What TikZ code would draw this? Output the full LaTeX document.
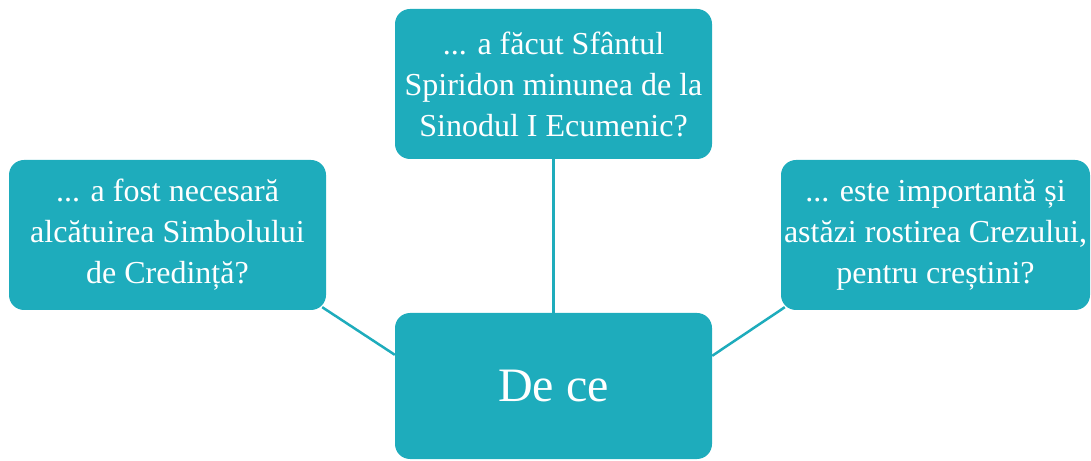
\documentclass[tikz,border=0pt]{standalone}
\usepackage{fontspec}
\setmainfont{Liberation Serif}
\usetikzlibrary{calc,backgrounds}
\definecolor{teal1}{RGB}{30,172,188}
\tikzset{
  qbox/.style={fill=teal1, rounded corners=15pt, inner sep=0pt, text=white,
    align=center, font=\fontsize{32}{41}\selectfont},
  conn/.style={draw=teal1, line width=2.5pt}
}
\begin{document}
\begin{tikzpicture}[x=1pt,y=1pt]
\useasboundingbox (0,0) rectangle (1091,460);
\node[qbox, minimum width=317pt, minimum height=150pt] (top) at (553.5,376) {... a făcut Sfântul\\Spiridon minunea de la\\Sinodul I Ecumenic?};
\node[qbox, minimum width=317pt, minimum height=150pt] (left) at (167.5,225) {... a fost necesară\\alcătuirea Simbolului\\de Credință?};
\node[qbox, minimum width=309pt, minimum height=150pt] (right) at (935.5,225) {... este importantă și\\astăzi rostirea Crezului,\\pentru creștini?};
\node[qbox, minimum width=317pt, minimum height=146pt, font=\fontsize{48}{58}\selectfont] (center) at (553.5,74) {De ce};
\begin{scope}[on background layer]
\draw[conn] (top.south) -- (center.north);
\draw[conn] ($(left.south east)+(-4,3)$) -- ($(center.north west)+(0,-42)$);
\draw[conn] ($(center.north east)+(0,-43)$) -- ($(right.south west)+(4,3)$);
\end{scope}
\end{tikzpicture}
\end{document}
